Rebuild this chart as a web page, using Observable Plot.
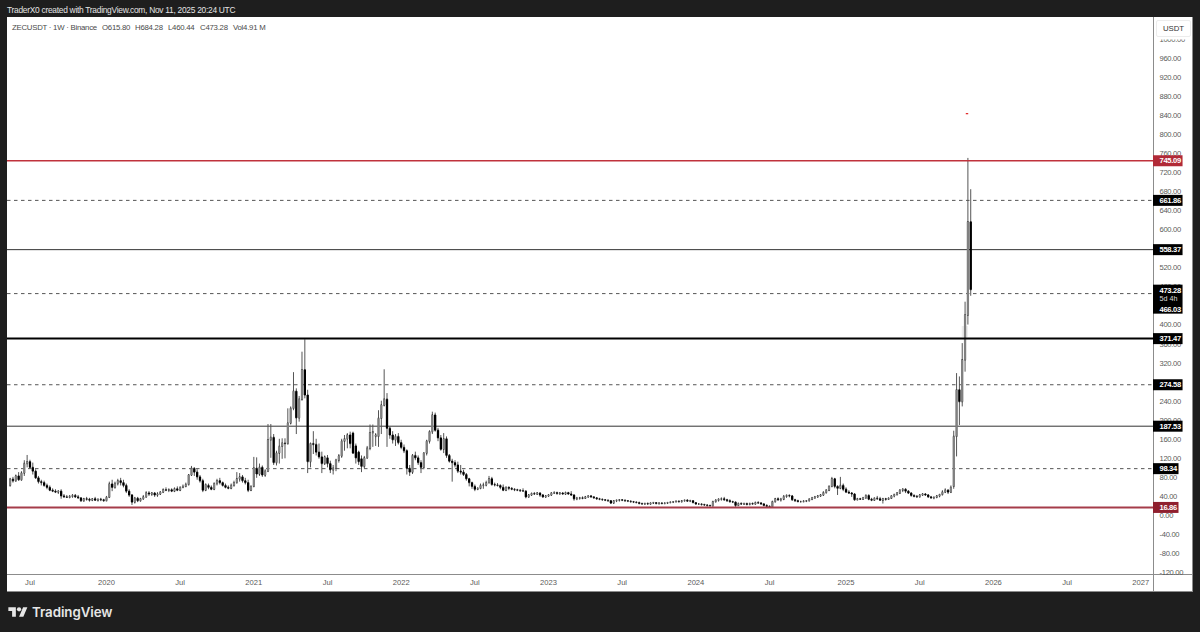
<!DOCTYPE html>
<html>
<head>
<meta charset="utf-8">
<script src="https://cdn.jsdelivr.net/npm/d3@7"></script>
<script src="https://cdn.jsdelivr.net/npm/@observablehq/plot@0.6"></script>
<style>
html,body{margin:0;padding:0;width:1200px;height:632px;overflow:hidden;background:#1e1e1e;font-family:"Liberation Sans",Arial,sans-serif}
#wrap{position:relative;width:1200px;height:632px}
#panel{position:absolute;left:7px;top:17px;width:1186px;height:575px;background:#fff;box-sizing:border-box;border:1px solid #8c8c8c;border-width:0 1px 1px 0}
#vline{position:absolute;left:1153px;top:17px;width:1px;height:575px;background:#8c8c8c}
#hline{position:absolute;left:7px;top:574px;width:1186px;height:1px;background:#8c8c8c}
#chart{position:absolute;left:0;top:0}
#title{position:absolute;left:7px;top:4px;color:#e4e4e4;font-size:8.4px;letter-spacing:-.27px;line-height:12px;white-space:nowrap}
.leg{position:absolute;top:22px;color:#4a4a4a;font-size:7.8px;letter-spacing:-.25px;line-height:11px;white-space:nowrap}
#usdt{position:absolute;left:1156px;top:20px;width:35px;height:17px;box-sizing:border-box;background:#fff;border:1px solid #ececec;border-radius:2px;box-shadow:0 2.6px 0 #fff;color:#333;font-size:7.8px;line-height:15px;text-align:center}
#logo{position:absolute;left:8px;top:605px;width:20px;height:15px}
#brand{position:absolute;left:32px;top:603px;color:#e6e6e6;font-family:Inter,"Liberation Sans",sans-serif;font-weight:600;font-size:13.3px;line-height:18px;letter-spacing:-.05px}
[aria-label="y-axis tick label"]{letter-spacing:-.3px}
.tag{letter-spacing:-.32px}
</style>
</head>
<body>
<div id="wrap">
  <div id="panel"></div>
  <div id="vline"></div>
  <div id="hline"></div>
  <div id="chart"></div>
  <div id="title">TraderX0 created with TradingView.com, Nov 11, 2025 20:24 UTC</div>
  <div class="leg" style="left:12px">ZECUSDT · 1W · Binance</div>
  <div class="leg" style="left:102px">O615.80</div>
  <div class="leg" style="left:135px">H684.28</div>
  <div class="leg" style="left:168px">L460.44</div>
  <div class="leg" style="left:200px">C473.28</div>
  <div class="leg" style="left:233px">Vol4.91 M</div>
  <div id="usdt">USDT</div>
  <svg id="logo" viewBox="0 0 36 28"><path fill="#e6e6e6" d="M14 22H7V11H0V4h14v18zM28 22h-8l7.5-18h8L28 22z"/><circle fill="#e6e6e6" cx="20" cy="8" r="4"/></svg>
  <div id="brand">TradingView</div>
</div>
<script>
const opens = [
62,75,72,82,74,88,108,112,100,92,
78,70,68,62,58,52,50,48,50,40,
38,37,39,41,38,36,30,34,33,31,
34,31,33,32,30,37,65,58,66,72,
68,62,50,42,27,35,30,34,38,46,
44,46,42,44,48,53,52,53,50,55,
52,58,60,64,84,98,90,80,72,52,
62,58,54,66,72,68,62,58,56,62,
68,76,80,72,68,52,60,98,86,100,
84,92,158,163,110,130,144,151,150,193,
224,260,204,243,305,252,112,150,148,132,
122,108,120,108,95,98,115,124,155,160,
168,172,145,132,118,102,120,140,173,165,
165,203,231,243,182,168,158,165,152,142,
135,98,90,125,120,110,100,130,155,175,
210,178,162,138,160,125,113,110,105,92,
90,85,76,68,60,54,56,62,63,68,
76,64,63,62,58,52,58,56,54,53,
52,51,50,38,42,45,44,46,42,38,
40,42,46,47,45,46,44,47,44,42,
34,35,36,35,38,40,38,36,34,33,
32,31,30,25,30,31,32,31,30,29,
28,27,26,24,23,24,23,25,26,24,
25,24,25,26,27,28,29,28,30,31,
29,30,26,23,23,22,21,20,19,28,
31,33,34,32,30,28,27,20,24,23,
24,22,24,23,26,25,23,20,18,17,
28,34,32,33,39,41,40,32,30,28,
28,29,30,33,36,38,40,42,47,52,
60,76,60,56,62,54,48,46,44,32,
34,33,36,41,33,31,35,34,31,34,
33,35,40,43,46,52,54,50,46,41,
39,38,42,44,42,38,36,37,40,43,
48,52,48,60,165,263,238,326,420,615.8];
const highs = [
78,80,85,90,92,115,126,116,110,96,
82,74,72,66,62,56,54,52,54,44,
42,42,44,44,42,37,36,38,36,35,
38,34,36,34,40,70,74,70,76,78,
74,66,54,44,38,38,36,42,50,50,
48,48,48,50,56,58,56,56,58,60,
60,64,68,86,103,100,96,84,76,66,
66,62,68,76,78,70,66,62,66,72,
90,88,84,78,74,62,122,121,108,104,
96,191,191,170,135,160,161,161,224,228,
300,266,250,343,369,263,152,176,160,150,
133,125,126,114,105,118,128,160,168,172,
175,175,150,135,125,124,145,190,190,172,
220,240,306,256,186,176,170,172,158,148,
138,105,128,133,125,115,132,158,178,217,
215,183,168,172,165,128,118,115,112,105,
95,88,78,70,64,58,66,68,72,82,
80,68,67,64,64,60,60,58,56,55,
54,56,52,44,47,48,48,47,44,42,
44,48,50,49,48,48,49,48,50,43,
38,38,39,40,41,42,39,37,36,34,
33,32,31,31,32,33,33,32,31,30,
29,28,28,25,25,26,26,27,27,26,
26,26,27,28,29,30,30,31,32,33,
32,31,27,25,24,23,22,21,30,33,
35,37,38,34,33,30,28,26,26,25,
25,25,26,28,29,27,25,22,20,30,
36,37,36,42,43,43,42,34,32,30,
31,31,35,38,40,42,44,50,54,62,
80,78,62,80,66,58,52,48,46,36,
36,38,43,43,36,37,40,38,36,36,
37,41,44,48,54,56,56,52,47,43,
42,44,46,46,44,40,39,42,44,52,
56,54,62,177,298,291,361,448,750,684.28];
const lows = [
60,68,70,72,72,82,100,98,85,76,
66,62,60,54,50,48,46,44,34,36,
36,35,36,36,34,28,28,30,28,29,
30,28,29,28,29,36,50,55,62,62,
58,46,38,21,24,27,28,32,36,40,
40,38,38,42,46,50,48,48,48,50,
50,56,58,62,82,82,74,68,48,50,
54,52,52,62,64,60,56,54,54,60,
66,70,68,64,48,50,58,78,82,80,
80,90,120,105,104,108,118,119,148,190,
220,170,196,240,245,88,100,128,125,118,
88,105,100,88,85,92,110,120,135,140,
140,128,108,105,90,98,118,136,143,145,
143,170,228,143,160,150,145,148,138,130,
85,82,86,115,105,88,96,125,150,170,
175,155,135,130,120,110,70,100,88,85,
82,72,60,55,50,52,54,55,60,66,
62,60,60,54,50,50,52,52,50,50,
49,49,35,36,40,42,42,38,36,36,
38,40,44,43,42,43,42,43,40,30,
31,32,33,34,36,36,34,32,31,30,
29,28,23,24,27,28,29,28,27,26,
25,25,23,22,22,22,22,23,23,22,
23,23,23,25,25,26,26,26,28,28,
27,25,22,21,20,19,18,18,18,26,
28,30,30,28,26,25,17,19,21,21,
21,21,22,22,24,22,19,17,15,16,
26,30,28,31,36,37,30,28,27,26,
27,27,29,31,34,36,38,40,45,50,
58,56,42,54,50,46,44,38,30,31,
32,32,34,31,29,30,32,30,24,30,
32,34,37,41,44,48,46,44,39,37,
36,37,40,40,36,34,33,35,37,41,
46,44,46,55,123,189,228,301,400,460.44];
const closes = [
75,72,82,74,88,108,112,100,92,78,
70,68,62,58,52,50,48,50,40,38,
37,39,41,38,36,30,34,33,31,34,
31,33,32,30,37,65,58,66,72,68,
62,50,42,27,35,30,34,38,46,44,
46,42,44,48,53,52,53,50,55,52,
58,60,64,84,98,90,80,72,52,64,
58,54,66,72,68,62,58,56,62,68,
76,80,72,68,52,60,99,86,100,84,
92,158,163,110,130,144,151,150,193,224,
260,204,243,305,252,112,150,148,132,122,
108,122,108,95,98,115,124,155,160,168,
150,130,120,112,102,120,140,173,175,168,
203,231,243,182,168,158,165,152,142,135,
98,90,125,120,110,100,130,155,175,210,
178,162,138,160,125,113,110,105,92,90,
85,76,68,60,54,56,62,63,68,76,
64,63,62,58,52,58,56,54,53,52,
51,50,38,42,45,44,46,42,38,40,
42,46,47,45,46,44,47,44,42,34,
35,36,35,38,40,38,36,34,33,32,
31,30,25,30,31,32,31,30,29,28,
27,26,24,23,24,23,25,26,24,25,
24,25,26,27,28,29,28,30,31,29,
30,26,23,23,22,21,20,19,28,31,
33,34,32,30,28,27,20,24,23,24,
22,24,23,26,25,23,20,18,17,28,
34,32,33,39,41,40,32,30,28,28,
29,30,33,36,38,40,42,47,52,60,
76,60,56,62,54,48,46,44,32,34,
33,36,41,33,31,35,34,31,34,33,
35,40,43,46,52,54,50,46,41,39,
38,42,44,42,38,36,37,40,43,48,
52,48,58,165,263,238,326,420,616,473.28];

const tickDates = ["2019-07-01","2020-01-06","2020-07-06","2021-01-04","2021-07-05","2022-01-03","2022-07-04","2023-01-02","2023-07-03","2024-01-01","2024-07-01","2025-01-06","2025-07-07","2026-01-05","2026-07-06","2027-01-04"];
const tickLabels = ["Jul","2020","Jul","2021","Jul","2022","Jul","2023","Jul","2024","Jul","2025","Jul","2026","Jul","2027"];
const priceTicks = [-120,-80,-40,0,40,80,120,160,200,240,280,320,360,400,440,480,520,560,600,640,680,720,760,800,840,880,920,960,1000];

const solidLevels = [558.37,187.53];
const dashedLevels = [661.86,466.03,274.58,98.34];
const blackLevel = 371.47;
const redTop = 745.09;
const redBottom = 16.86;
const blackTags = [661.86,558.37,371.47,274.58,187.53];
const currentPrice = 473.28;
const countdown = "5d 4h";
const barClose = "466.03";
const strayMarkPrice = 844;

const xStart = new Date("2019-05-06T12:00Z");
const xEnd = new Date("2027-02-04T12:00Z");
const tagEnd = new Date("2027-04-18T12:00Z");
const tagEndShort = new Date("2027-04-08T12:00Z");
const tdate = tickDates.map(d=>new Date(d+"T00:00Z"));
const labelOf = new Map(tdate.map((d,i)=>[+d,tickLabels[i]]));
const dates = d3.utcMonday.range(new Date("2019-05-13T00:00Z"), new Date("2025-11-11T00:00Z"));
const candles = dates.map((date,i)=>({date,open:opens[i],high:highs[i],low:lows[i],close:closes[i]}));
const ups = candles.filter(d=>d.close>=d.open);
const downs = candles.filter(d=>d.close<d.open);
const fmt = d3.format(".2f");
const fmtAxis = d=>fmt(d).replace("−","-");
const font = "Liberation Sans";

const plot = Plot.plot({
  width:1200,height:632,
  marginLeft:7,marginRight:47,marginTop:17,marginBottom:58,
  style:{background:"transparent",fontFamily:font,overflow:"visible"},
  x:{type:"utc",domain:[xStart,xEnd],label:null},
  y:{domain:[-124,1046],label:null},
  marks:[
    Plot.rect([0],{x1:()=>new Date("2025-10-20T00:00Z"),x2:()=>new Date("2025-11-04T00:00Z"),y1:()=>374,y2:()=>397,fill:"#ececec"}),
    Plot.ruleY(solidLevels,{stroke:"#333",strokeWidth:1}),
    Plot.ruleY(dashedLevels,{stroke:"#555",strokeWidth:1,strokeDasharray:"3.5,3.5"}),
    Plot.ruleX(candles,{x:"date",y1:"low",y2:"high",stroke:"#555",strokeWidth:1}),
    Plot.ruleX(candles,{x:"date",y1:"open",y2:"close",stroke:"#333",strokeWidth:1.4,strokeLinecap:"square"}),
    Plot.ruleX(ups,{x:"date",y1:"open",y2:"close",stroke:"#808080",strokeWidth:2.3}),
    Plot.ruleX(downs,{x:"date",y1:"open",y2:"close",stroke:"#000",strokeWidth:2.3}),
    Plot.ruleY([blackLevel],{stroke:"#000",strokeWidth:2}),
    Plot.ruleY([redTop],{stroke:"#c0323c",strokeWidth:1.4}),
    Plot.ruleY([redBottom],{stroke:"#a53c4a",strokeWidth:2}),
    Plot.ruleY([strayMarkPrice],{x1:()=>new Date("2025-10-30T00:00Z"),x2:()=>new Date("2025-11-05T00:00Z"),stroke:"#e02020",strokeWidth:1.2}),
    Plot.axisY(priceTicks,{anchor:"right",tickSize:0,tickPadding:6,tickFormat:fmtAxis,fill:"#5a5a5a",fontSize:7.6}),
    Plot.axisX(tdate,{anchor:"bottom",tickSize:0,tickPadding:5,tickFormat:d=>labelOf.get(+d),fill:"#5a5a5a",fontSize:7.6,textAnchor:"middle"}),
    Plot.ruleY(blackTags,{x1:()=>xEnd,x2:()=>tagEnd,stroke:"#000",strokeWidth:11}),
    Plot.ruleY([98.34],{x1:()=>xEnd,x2:()=>tagEndShort,stroke:"#000",strokeWidth:11}),
    Plot.ruleY([redTop],{x1:()=>xEnd,x2:()=>tagEnd,stroke:"#b12a37",strokeWidth:11}),
    Plot.ruleY([redBottom],{x1:()=>xEnd,x2:()=>tagEndShort,stroke:"#8f1f2e",strokeWidth:11}),
    Plot.ruleY([currentPrice],{x1:()=>xEnd,x2:()=>tagEnd,stroke:"#000",strokeWidth:29,dy:9}),
    Plot.text([...blackTags,98.34,redTop,redBottom,currentPrice],{x:()=>xEnd,y:d=>d,text:d=>fmt(d),dx:6,textAnchor:"start",fill:"#fff",fontWeight:"bold",fontSize:7.6,className:"tag"}),
    Plot.text([currentPrice],{x:()=>xEnd,y:d=>d,text:()=>countdown,dx:6,dy:8.5,textAnchor:"start",fill:"#ddd",fontSize:7.2}),
    Plot.text([currentPrice],{x:()=>xEnd,y:d=>d,text:()=>barClose,dx:6,dy:19,textAnchor:"start",fill:"#fff",fontWeight:"bold",fontSize:7.6,className:"tag"})
  ]
});
document.getElementById("chart").appendChild(plot);
</script>
</body>
</html>
